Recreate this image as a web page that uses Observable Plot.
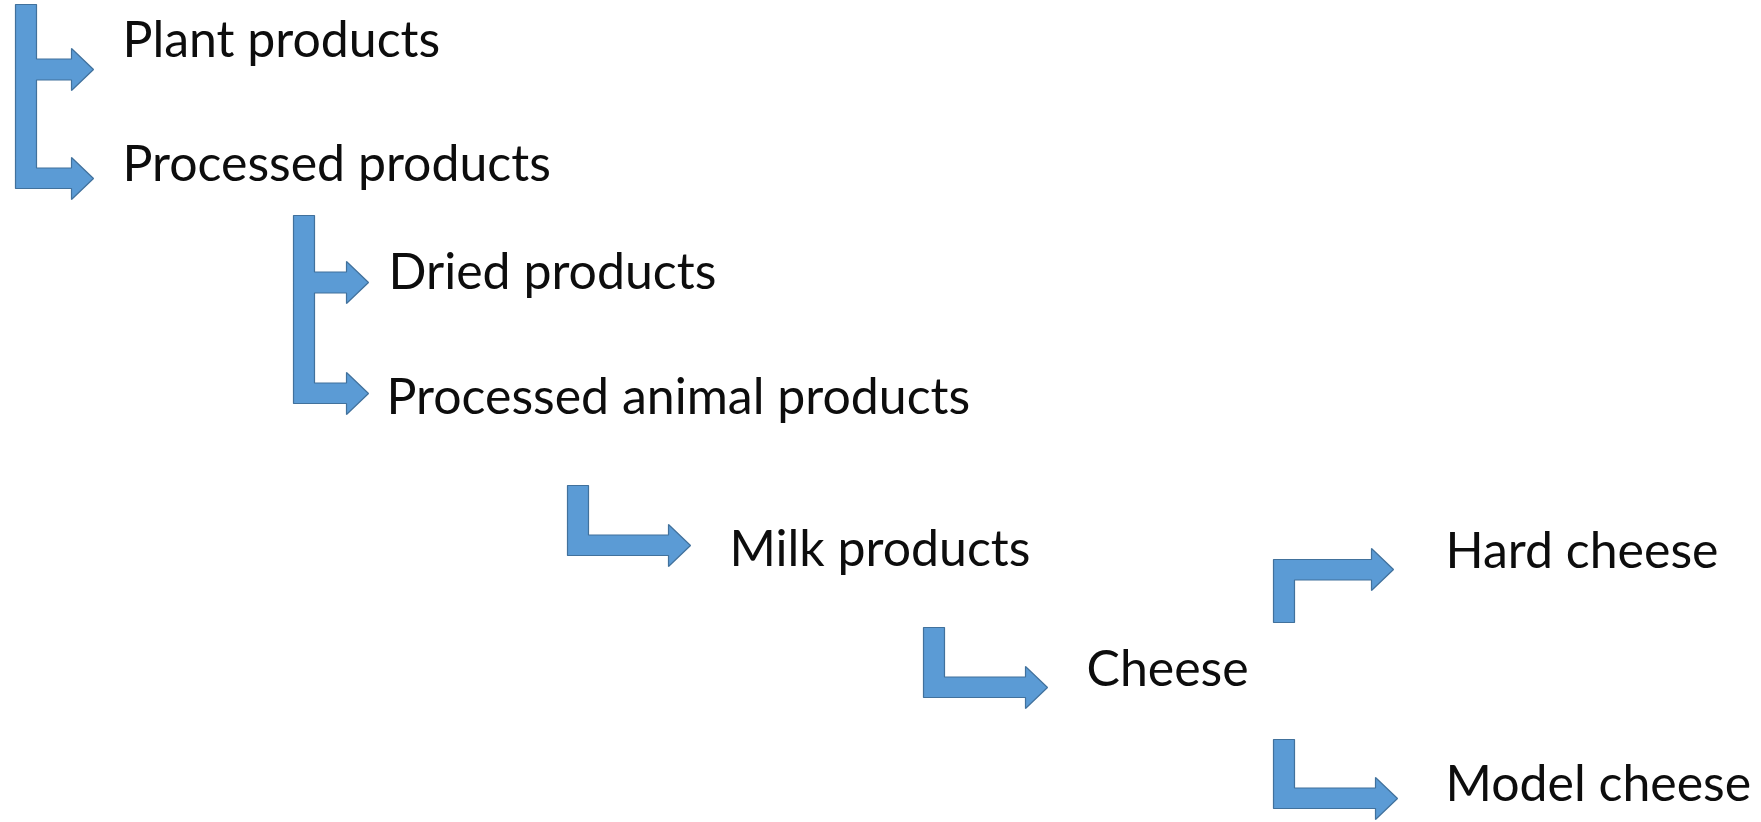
<!DOCTYPE html>
<html>
<head>
<meta charset="utf-8">
<script src="https://cdn.jsdelivr.net/npm/d3@7"></script>
<script src="https://cdn.jsdelivr.net/npm/@observablehq/plot@0.6"></script>
<style>
  html, body { margin: 0; padding: 0; background: #ffffff; overflow: hidden; }
  #chart svg { display: block; }
</style>
</head>
<body>
<div id="chart"></div>
<script>
// ---- Node labels (hierarchy of product categories) ----
const labels   = ["Plant products", "Processed products", "Dried products", "Processed animal products",
                  "Milk products", "Cheese", "Hard cheese", "Model cheese"];
const labelX   = [122, 122, 388, 386, 729, 1086, 1445, 1445];
const labelY   = [56, 180, 288, 413, 565, 685, 567, 800];   // baselines

// ---- Bent arrows (one connector per parent) ----
const arrowId      = ["a1", "a2", "a3", "a4", "a5", "a6"];
const arrowBarX    = [15, 293, 567, 923, 1273, 1273];
const arrowTop     = [4, 215, 485, 627, 559, 739];
const arrowBottom  = [188, 403, 555, 697, 622, 808];
const arrowBranchY = [[69, 178], [282, 393], [545], [687], [569], [798]];
const arrowTipX    = [93, 368, 690, 1047, 1393, 1397];

const W = 1761, H = 822;
const barW = 21, shaft = 21, headLen = 22, headHalf = 21;

// Build outline polygon points for each arrow from its spec
const arrowPts = [];
arrowId.forEach((id, i) => {
  const x0 = arrowBarX[i], x1 = x0 + barW, tip = arrowTipX[i], base = tip - headLen;
  const pts = [[x0, arrowTop[i]], [x1, arrowTop[i]]];
  for (const by of arrowBranchY[i]) {
    const t = Math.max(by - shaft / 2, arrowTop[i]), b = Math.min(by + shaft / 2, arrowBottom[i]);
    pts.push([x1, t], [base, t], [base, by - headHalf], [tip, by],
             [base, by + headHalf], [base, b], [x1, b]);
  }
  pts.push([x1, arrowBottom[i]], [x0, arrowBottom[i]]);
  pts.forEach(([x, y], k) => arrowPts.push({id, k, x, y}));
});

const nodes = labels.map((name, i) => ({name, x: labelX[i], y: labelY[i]}));

const chart = Plot.plot({
  width: W,
  height: H,
  margin: 0,
  x: {domain: [0, W], range: [0, W], axis: null},
  y: {domain: [0, H], range: [0, H], axis: null},
  style: {background: "#ffffff"},
  marks: [
    Plot.line(arrowPts, {
      x: "x", y: "y", z: "id",
      curve: "linear-closed",
      fill: "#5B9BD5",
      stroke: "#41719C",
      strokeWidth: 1.2,
      strokeLinejoin: "miter"
    }),
    Plot.text(nodes, {
      x: "x", y: "y", text: "name",
      textAnchor: "start",
      lineAnchor: "bottom",
      fontFamily: "Lato, 'Open Sans', sans-serif",
      fontSize: 50,
      fill: "#0d0d0d"
    })
  ]
});
document.getElementById("chart").appendChild(chart);
</script>
</body>
</html>
